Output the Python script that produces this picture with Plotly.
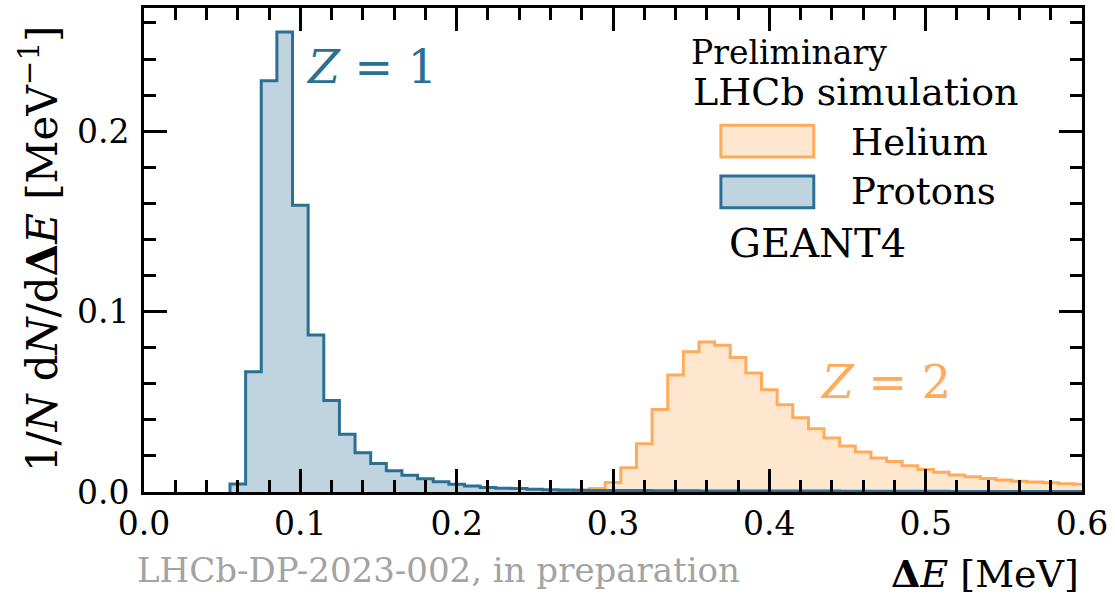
import numpy as np
import plotly.graph_objects as go

# Energy-deposit histograms, bin width 0.01 MeV
bin_width = 0.01

proton_start = 0.055
proton_values = [
    0.0044, 0.0667, 0.228, 0.255, 0.159, 0.087, 0.0507, 0.032, 0.0217, 0.0158,
    0.0118, 0.0093, 0.0073, 0.0057, 0.0043, 0.0033, 0.0025, 0.0021, 0.0019, 0.0015,
    0.0013, 0.0011, 0.0010, 0.0009, 0.0008,
    0.0008, 0.0008, 0.0007, 0.0007, 0.0007, 0.0006, 0.0006, 0.0006, 0.0006, 0.0005,
    0.0005, 0.0005, 0.0005, 0.0005, 0.0004, 0.0004, 0.0004, 0.0004, 0.0004, 0.0004,
    0.0004, 0.0003, 0.0003, 0.0003, 0.0003, 0.0003, 0.0003, 0.0003, 0.0003, 0.0003,
]

helium_start = 0.265
helium_values = [
    0.0005, 0.0010, 0.0020, 0.0053, 0.0134, 0.0268, 0.0457, 0.0648, 0.0778, 0.0832,
    0.0814, 0.0746, 0.0660, 0.0567, 0.0483, 0.0411, 0.0351, 0.0299, 0.0255, 0.0222,
    0.0189, 0.0169, 0.0145, 0.0125, 0.0109, 0.0094, 0.0084, 0.0075, 0.0066, 0.0060,
    0.0055, 0.0051, 0.0046, 0.0043,
]

x_ticks = [0.0, 0.1, 0.2, 0.3, 0.4, 0.5, 0.6]
y_ticks = [0.0, 0.1, 0.2]

PROTON = "#2b6f95"
HELIUM = "#ffab5c"
SERIF = "'DejaVu Serif', serif"


def step_outline(start, values):
    """Closed step outline (stepfilled style) for an 'hv' line."""
    vals = np.asarray(values, dtype=float)
    edges = start + bin_width * np.arange(len(vals) + 1)
    xs = np.concatenate([[edges[0]], edges[:-1], [edges[-1], edges[-1]]])
    ys = np.concatenate([[0.0], vals, [vals[-1], 0.0]])
    return xs, ys


fig = go.Figure()

hx, hy = step_outline(helium_start, helium_values)
fig.add_trace(go.Scatter(
    x=hx, y=hy, mode="lines", line=dict(color=HELIUM, width=3, shape="hv"),
    fill="tozeroy", fillcolor="rgba(255,171,92,0.3)", name="Helium",
    showlegend=False, hoverinfo="skip",
))

px_, py_ = step_outline(proton_start, proton_values)
fig.add_trace(go.Scatter(
    x=px_, y=py_, mode="lines", line=dict(color=PROTON, width=3, shape="hv"),
    fill="tozeroy", fillcolor="rgba(43,111,149,0.3)", name="Protons",
    showlegend=False, hoverinfo="skip",
))

axis_common = dict(
    showline=True, linecolor="black", linewidth=3, mirror="allticks",
    ticks="inside", ticklen=23, tickwidth=2.5, tickcolor="black",
    showgrid=False, zeroline=False,
    tickfont=dict(family=SERIF, size=33, color="black"),
    minor=dict(ticks="inside", ticklen=12, tickwidth=2.5, tickcolor="black",
               dtick=0.02, showgrid=False),
)

fig.update_xaxes(range=[0, 0.6], tickvals=x_ticks,
                 ticktext=[f"{v:.1f}" for v in x_ticks], **axis_common)
fig.update_yaxes(range=[0, 0.2683], tickvals=y_ticks,
                 ticktext=[f"{v:.1f}" for v in y_ticks],
                 ticklabelstandoff=5, **axis_common)

# Legend drawn as boxes in paper space
def paper_x(px):
    return (px - 143.5) / 939.0


def paper_y(py):
    return (492.0 - py) / 487.0


shapes = [
    dict(type="rect", xref="paper", yref="paper",
         x0=paper_x(721), x1=paper_x(814), y0=paper_y(155), y1=paper_y(123),
         line=dict(color=HELIUM, width=3), fillcolor="rgba(255,171,92,0.3)"),
    dict(type="rect", xref="paper", yref="paper",
         x0=paper_x(721), x1=paper_x(814), y0=paper_y(206), y1=paper_y(174),
         line=dict(color=PROTON, width=3), fillcolor="rgba(43,111,149,0.3)"),
]

annotations = [
    dict(text="Preliminary", x=paper_x(689), y=paper_y(50), xanchor="left",
         font=dict(size=33)),
    dict(text="LHCb simulation", x=paper_x(691), y=paper_y(90), xanchor="left",
         font=dict(size=38)),
    dict(text="Helium", x=paper_x(849), y=paper_y(140), xanchor="left",
         font=dict(size=37)),
    dict(text="Protons", x=paper_x(849), y=paper_y(190), xanchor="left",
         font=dict(size=37)),
    dict(text="GEANT4", x=paper_x(727), y=paper_y(241), xanchor="left",
         font=dict(size=40)),
    dict(text="<i>Z</i> = 1", x=paper_x(304), y=paper_y(64), xanchor="left",
         font=dict(size=46, color=PROTON)),
    dict(text="<i>Z</i> = 2", x=paper_x(818), y=paper_y(381), xanchor="left",
         font=dict(size=46, color=HELIUM)),
    dict(text="1/<i>N</i> d<i>N</i>/d<b>Δ</b><i>E</i> [MeV<sup>−1</sup>]",
         x=paper_x(39), y=paper_y(247), xanchor="center", textangle=-90,
         font=dict(size=42)),
    dict(text="<b>Δ</b><i>E</i> [MeV]", x=paper_x(1081), y=paper_y(574),
         xanchor="right", font=dict(size=38)),
    dict(text="LHCb-DP-2023-002, in preparation", x=paper_x(134), y=paper_y(570),
         xanchor="left", font=dict(size=34, color="#a3a3a3")),
]
for a in annotations:
    a.setdefault("xref", "paper")
    a.setdefault("yref", "paper")
    a["showarrow"] = False
    a["yanchor"] = "middle"
    a["font"].setdefault("color", "black")
    a["font"]["family"] = SERIF

fig.update_layout(
    width=1115, height=598,
    margin=dict(l=143.5, r=32.5, t=5, b=106, pad=0),
    paper_bgcolor="white", plot_bgcolor="white",
    shapes=shapes, annotations=annotations,
    font=dict(family=SERIF, color="black"),
)

fig.write_html("out.html")
